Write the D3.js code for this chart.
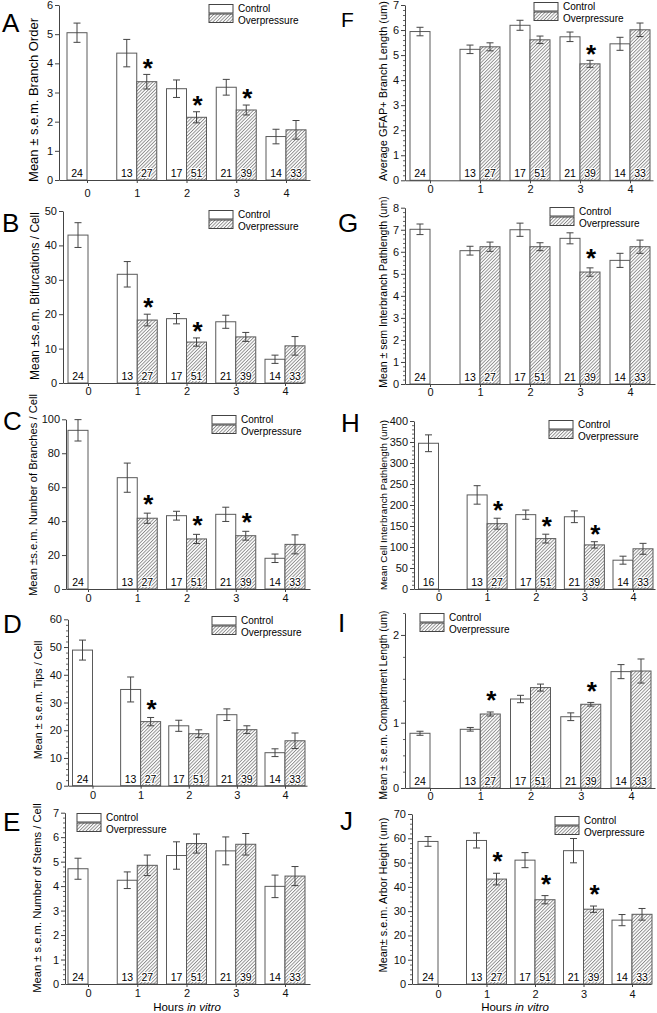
<!DOCTYPE html>
<html><head><meta charset="utf-8">
<script src="https://cdn.jsdelivr.net/npm/d3@7"></script>
<style>
body{margin:0;background:#fff}
svg{display:block}
text{font-family:"Liberation Sans",Arial,sans-serif}
</style>
</head><body>
<svg id="chart" width="657" height="1013"></svg>
<script>
// ---------- DATA ----------
const categories = ["0", "1", "2", "3", "4"];
const seriesNames = ["Control", "Overpressure"];
const nControl = [24, 13, 17, 21, 14];
const nControlH = [16, 13, 17, 21, 14];
const nOver = [null, 27, 51, 39, 33];

const A_control = [5.05, 4.35, 3.13, 3.18, 1.49];
const A_controlErr = [0.33, 0.47, 0.30, 0.27, 0.25];
const A_over = [null, 3.37, 2.15, 2.40, 1.72];
const A_overErr = [null, 0.25, 0.19, 0.17, 0.32];
const A_sig = [0, 1, 1, 1, 0];

const B_control = [43.0, 31.6, 18.7, 17.8, 6.9];
const B_controlErr = [3.6, 3.7, 1.5, 1.9, 1.2];
const B_over = [null, 18.3, 11.9, 13.4, 10.8];
const B_overErr = [null, 1.7, 1.2, 1.3, 2.7];
const B_sig = [0, 1, 1, 0, 0];

const C_control = [93.5, 65.6, 43.2, 44.0, 18.1];
const C_controlErr = [6.3, 8.6, 2.6, 4.2, 2.5];
const C_over = [null, 41.7, 29.5, 31.4, 26.3];
const C_overErr = [null, 3.0, 2.7, 2.6, 5.6];
const C_sig = [0, 1, 1, 1, 0];

const D_control = [48.9, 34.7, 21.6, 25.6, 11.9];
const D_controlErr = [3.6, 4.5, 2.0, 2.1, 1.4];
const D_over = [null, 23.1, 18.75, 20.2, 16.2];
const D_overErr = [null, 1.5, 1.4, 1.4, 2.8];
const D_sig = [0, 1, 0, 0, 0];

const E_control = [4.71, 4.24, 5.25, 5.44, 3.99];
const E_controlErr = [0.43, 0.34, 0.56, 0.57, 0.46];
const E_over = [null, 4.85, 5.74, 5.71, 4.41];
const E_overErr = [null, 0.42, 0.39, 0.44, 0.39];
const E_sig = [0, 0, 0, 0, 0];

const F_control = [5.94, 5.23, 6.19, 5.73, 5.45];
const F_controlErr = [0.17, 0.17, 0.20, 0.19, 0.26];
const F_over = [null, 5.33, 5.61, 4.65, 6.01];
const F_overErr = [null, 0.16, 0.15, 0.14, 0.27];
const F_sig = [0, 0, 0, 1, 0];

const G_control = [7.02, 6.05, 7.00, 6.61, 5.61];
const G_controlErr = [0.24, 0.20, 0.30, 0.25, 0.32];
const G_over = [null, 6.23, 6.23, 5.08, 6.23];
const G_overErr = [null, 0.21, 0.18, 0.19, 0.30];
const G_sig = [0, 0, 0, 1, 0];

const H_control = [347, 224, 177, 172, 68.6];
const H_controlErr = [20, 22, 11, 14, 9.5];
const H_over = [null, 155.5, 120, 105, 95.7];
const H_overErr = [null, 13, 10.5, 7.6, 13];
const H_sig = [0, 1, 1, 1, 0];

const I_control = [0.838, 0.899, 1.27, 1.068, 1.582];
const I_controlErr = [0.031, 0.028, 0.042, 0.044, 0.08];
const I_over = [null, 1.099, 1.40, 1.21, 1.589];
const I_overErr = [null, 0.023, 0.04, 0.021, 0.137];
const I_sig = [0, 1, 0, 1, 0];

const J_control = [58.7, 59.1, 51.0, 54.9, 26.3];
const J_controlErr = [2.0, 3.1, 3.1, 5.0, 2.3];
const J_over = [null, 43.2, 34.7, 30.8, 28.7];
const J_overErr = [null, 2.4, 1.7, 1.3, 2.4];
const J_sig = [0, 1, 1, 1, 0];

const yLabels = {
  A: "Mean \u00b1 s.e.m. Branch Order",
  B: "Mean \u00b1s.e.m. Bifurcations / Cell",
  C: "Mean \u00b1s.e.m. Number of Branches / Cell",
  D: "Mean \u00b1 s.e.m. Tips / Cell",
  E: "Mean \u00b1 s.e.m. Number of Stems / Cell",
  F: "Average GFAP+ Branch Length (um)",
  G: "Mean \u00b1 sem Interbranch Pathlength (um)",
  H: "Mean Cell Interbranch Pathlength (um)",
  I: "Mean \u00b1 s.e.m. Compartment Length (um)",
  J: "Mean\u00b1 s.e.m. Arbor Height (um)"
};

// ---------- LAYOUT ----------
const r = (a, b, s) => d3.range(a, b + s / 2, s);
const panels = [
  {id:"A", c:A_control, ce:A_controlErr, o:A_over, oe:A_overErr, sig:A_sig, n:nControl,
   yDom:[0,6], yRng:[180,5], ticks:r(0,6,1), minor:[], axisX:59, cat0:87, cat4:286, xEnd:310,
   leg:[209,4], letter:[2,32,26], ylab:[33,100,13], xOff:17, starGap:12.5},
  {id:"B", c:B_control, ce:B_controlErr, o:B_over, oe:B_overErr, sig:B_sig, n:nControl,
   yDom:[0,50], yRng:[383,211], ticks:r(0,50,10), minor:[], axisX:63, cat0:88, cat4:285, xEnd:303,
   leg:[209,210], letter:[2,232,26], ylab:[35,296,11.9], xOff:12, starGap:12.7},
  {id:"C", c:C_control, ce:C_controlErr, o:C_over, oe:C_overErr, sig:C_sig, n:nControl,
   yDom:[0,100], yRng:[589,419.3], ticks:r(0,100,20), minor:[], axisX:66, cat0:88, cat4:285, xEnd:310,
   leg:[212,415], letter:[3,430,26], ylab:[33,495,11.2], xOff:13, starGap:15},
  {id:"D", c:D_control, ce:D_controlErr, o:D_over, oe:D_overErr, sig:D_sig, n:nControl,
   yDom:[0,60], yRng:[785.7,619.3], ticks:r(0,60,10), minor:r(0,60,2), axisX:68, cat0:92.5, cat4:285, xEnd:307,
   leg:[212,616], letter:[3,633,26], ylab:[38,700,10.8], xOff:14, starGap:14.3},
  {id:"E", c:E_control, ce:E_controlErr, o:E_over, oe:E_overErr, sig:E_sig, n:nControl,
   yDom:[0,7], yRng:[984,812.7], ticks:r(0,7,1), minor:r(0,7,0.2), axisX:65, cat0:88, cat4:285, xEnd:310,
   leg:[77,813], letter:[3,831,26], ylab:[37,898,11.2], xOff:13, starGap:14, xTitle:[187,1011]},
  {id:"F", c:F_control, ce:F_controlErr, o:F_over, oe:F_overErr, sig:F_sig, n:nControl,
   yDom:[0,7], yRng:[180.3,5], ticks:r(0,7,1), minor:r(0,7,0.2), axisX:405, cat0:430, cat4:630, xEnd:653,
   leg:[534,2], letter:[341,27,21], ylab:[383,91,11], xOff:13, starGap:12.4},
  {id:"G", c:G_control, ce:G_controlErr, o:G_over, oe:G_overErr, sig:G_sig, n:nControl,
   yDom:[0,8], yRng:[384,207.7], ticks:r(0,8,1), minor:r(0,8,0.2), axisX:405, cat0:430, cat4:630, xEnd:655,
   leg:[550,207], letter:[338,232,26], ylab:[383,292,10.5], xOff:12.5, starGap:15.7},
  {id:"H", c:H_control, ce:H_controlErr, o:H_over, oe:H_overErr, sig:H_sig, n:nControlH,
   yDom:[0,400], yRng:[589,421], ticks:r(0,400,50), minor:r(0,400,10), axisX:414, cat0:438.5, cat4:633, xEnd:655,
   leg:[549,420], letter:[341,432,26], ylab:[383,505,9.9], xOff:12, starGap:14},
  {id:"I", c:I_control, ce:I_controlErr, o:I_over, oe:I_overErr, sig:I_sig, n:nControl,
   yDom:[0,1,2.25], yRng:[788,722.7,613], ticks:[0,1,2], minor:r(0,2.25,0.25), axisX:405, cat0:430, cat4:631, xEnd:655,
   leg:[420,613], letter:[338,632,26], ylab:[383,705,10.3], xOff:12, starGap:17.5},
  {id:"J", c:J_control, ce:J_controlErr, o:J_over, oe:J_overErr, sig:J_sig, n:nControl,
   yDom:[0,70], yRng:[984,814], ticks:r(0,70,10), minor:r(0,70,2), axisX:412, cat0:438, cat4:632, xEnd:651,
   leg:[555,816], letter:[340,830,26], ylab:[383,895,10.9], xOff:14, starGap:18, xTitle:[515,1011]}
];

const svg = d3.select("#chart");
svg.append("rect").attr("width",657).attr("height",1013).attr("fill","#fff");

const defs = svg.append("defs");
const pat = defs.append("pattern").attr("id","hatch").attr("patternUnits","userSpaceOnUse")
  .attr("width",2.4).attr("height",2.4).attr("patternTransform","rotate(45)");
pat.append("rect").attr("width",2.4).attr("height",2.4).attr("fill","#fff");
pat.append("line").attr("x1",0.5).attr("y1",0).attr("x2",0.5).attr("y2",2.4)
  .attr("stroke","#666").attr("stroke-width",0.7);

const BW = 20;
const FONT = '"Liberation Sans",Arial,sans-serif';

function drawPanel(p) {
  const g = svg.append("g").attr("class","panel-"+p.id);
  const y = d3.scaleLinear().domain(p.yDom).range(p.yRng);
  const xc = d3.scaleLinear().domain([0,4]).range([p.cat0,p.cat4]);
  const lo = xc.invert(p.axisX), hi = xc.invert(p.xEnd);
  const xs = xc.copy().domain([lo,hi]).range([p.axisX,p.xEnd]);
  const y0 = y(0);

  // bars
  const idx = d3.range(categories.length);
  g.selectAll("rect.ctrl").data(idx).join("rect").attr("class","ctrl")
    .attr("x", i => xs(i) - BW).attr("width", BW)
    .attr("y", i => y(p.c[i])).attr("height", i => y0 - y(p.c[i]))
    .attr("fill","#fff").attr("stroke","#5a5a5a").attr("stroke-width",1);
  const oi = idx.filter(i => p.o[i] != null);
  g.selectAll("rect.over").data(oi).join("rect").attr("class","over")
    .attr("x", i => xs(i)).attr("width", BW)
    .attr("y", i => y(p.o[i])).attr("height", i => y0 - y(p.o[i]))
    .attr("fill","url(#hatch)").attr("stroke","#5a5a5a").attr("stroke-width",1);

  // error bars
  const errs = [];
  idx.forEach(i => errs.push({cx: xs(i) - BW/2, v: p.c[i], e: p.ce[i]}));
  oi.forEach(i => errs.push({cx: xs(i) + BW/2, v: p.o[i], e: p.oe[i]}));
  const eg = g.append("g").attr("stroke","#444").attr("stroke-width",1).attr("fill","none");
  errs.forEach(d => {
    const t = y(d.v + d.e), b = y(d.v - d.e);
    eg.append("line").attr("x1",d.cx).attr("x2",d.cx).attr("y1",t).attr("y2",b);
    eg.append("line").attr("x1",d.cx-3.5).attr("x2",d.cx+3.5).attr("y1",t).attr("y2",t);
    eg.append("line").attr("x1",d.cx-3.5).attr("x2",d.cx+3.5).attr("y1",b).attr("y2",b);
  });

  // n labels
  const nl = g.append("g").attr("font-size",10.5).attr("font-family",FONT).attr("text-anchor","middle");
  idx.forEach(i => {
    nl.append("text").attr("x", xs(i) - BW/2).attr("y", y0 - 3).text(p.n[i]);
  });
  oi.forEach(i => {
    nl.append("text").attr("x", xs(i) + BW/2).attr("y", y0 - 3).text(nOver[i])
      .attr("stroke","#fff").attr("stroke-width",2.2).attr("paint-order","stroke");
  });

  // significance stars
  oi.filter(i => p.sig[i]).forEach(i => {
    const top = y(p.o[i] + p.oe[i]);
    const cy = top - p.starGap;
    g.append("text").attr("x", xs(i) + BW/2 + 1).attr("y", cy + 0.575*26)
      .attr("text-anchor","middle").attr("font-size",26).attr("font-family",FONT)
      .attr("font-weight","bold").text("*");
  });

  // axes
  const yAx = g.append("g").attr("transform",`translate(${p.axisX},0)`)
    .call(d3.axisLeft(y).tickValues(p.ticks).tickSize(4).tickSizeOuter(0).tickPadding(2).tickFormat(d3.format("~g")));
  yAx.selectAll("text").attr("font-size",11).attr("font-family",FONT).attr("fill","#111");
  yAx.selectAll("line,path").attr("stroke","#444");
  if (p.minor.length) {
    const mAx = g.append("g").attr("transform",`translate(${p.axisX},0)`)
      .call(d3.axisLeft(y).tickValues(p.minor.filter(v => p.ticks.indexOf(v) < 0)).tickSize(2).tickSizeOuter(0).tickFormat(""));
    mAx.select("path").remove();
    mAx.selectAll("line").attr("stroke","#666");
  }
  const xAx = g.append("g").attr("transform",`translate(0,${y0})`)
    .call(d3.axisBottom(xs).tickValues(idx).tickSize(3).tickSizeOuter(0).tickPadding(p.xOff - 11).tickFormat(i => categories[i]));
  xAx.selectAll("text").attr("font-size",11).attr("font-family",FONT).attr("fill","#111");
  xAx.selectAll("line,path").attr("stroke","#444");

  // legend
  const [lx, ly] = p.leg;
  const lg = g.append("g");
  lg.append("rect").attr("x",lx).attr("y",ly+0.5).attr("width",24).attr("height",8.5)
    .attr("fill","#fff").attr("stroke","#444");
  lg.append("rect").attr("x",lx).attr("y",ly+10).attr("width",24).attr("height",8.5)
    .attr("fill","url(#hatch)").attr("stroke","#444");
  lg.append("text").attr("x",lx+29).attr("y",ly+8.3).attr("font-size",10).attr("font-family",FONT).text(seriesNames[0]);
  lg.append("text").attr("x",lx+29).attr("y",ly+19.6).attr("font-size",10).attr("font-family",FONT).text(seriesNames[1]);

  // panel letter
  g.append("text").attr("x",p.letter[0]).attr("y",p.letter[1]).attr("font-size",p.letter[2])
    .attr("font-family",FONT).text(p.id);

  // y label
  g.append("text").attr("transform",`translate(${p.ylab[0]},${p.ylab[1]}) rotate(-90)`)
    .attr("text-anchor","middle").attr("dominant-baseline","central")
    .attr("font-size",p.ylab[2]).attr("font-family",FONT).text(yLabels[p.id]);

  // x title
  if (p.xTitle) {
    const t = g.append("text").attr("x",p.xTitle[0]).attr("y",p.xTitle[1]).attr("text-anchor","middle")
      .attr("font-size",11.5).attr("font-family",FONT);
    t.append("tspan").text("Hours ");
    t.append("tspan").attr("font-style","italic").text("in vitro");
  }
}

panels.forEach(drawPanel);
</script>
</body></html>
